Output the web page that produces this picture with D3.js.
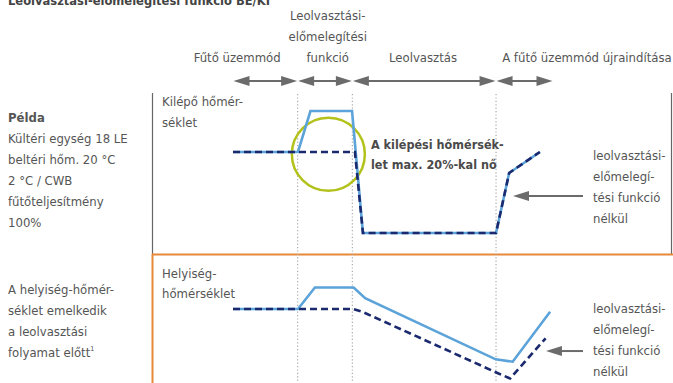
<!DOCTYPE html>
<html>
<head>
<meta charset="utf-8">
<script src="https://cdn.jsdelivr.net/npm/d3@7"></script>
<style>
  html, body { margin: 0; padding: 0; background: #fff; }
  svg { display: block; }
  text { font-family: "DejaVu Sans Condensed", "Liberation Sans Narrow", sans-serif; fill: #555; font-size: 13px; }
</style>
</head>
<body>
<svg id="chart" width="673" height="383"></svg>
<script>
// Operating phases along the time axis (arbitrary time units 0–100)
const phaseLabels = [["Fűtő üzemmód"], ["Leolvasztási-", "előmelegítési", "funkció"], ["Leolvasztás"], ["A fűtő üzemmód újraindítása"]];
const phaseBounds = [0, 20.2, 37.3, 82.2, 100];
const phaseLabelCenters = [1.3, 29.6, 59.4, 110.6];

// Outlet (leaving water) temperature, relative units
const outletWith    = [[0, 60.7], [20.3, 60.7], [24.2, 88], [37.2, 88], [40.6, 6.7], [82.2, 6.7], [86.3, 46.7], [95.9, 60.7]];
const outletWithout = [[0, 60.7], [38.1, 60.7], [40.6, 6.7], [82.2, 6.7], [86.3, 46.7], [95.9, 60.7]];

// Room temperature, relative units
const roomWith    = [[0, 63.3], [20.3, 63.3], [25.6, 81.2], [37.7, 81.2], [41.3, 72.3], [82.1, 21.4], [87.4, 19.4], [99.1, 61.1]];
const roomWithout = [[0, 63.3], [37.5, 63.3], [40.6, 60.8], [82.8, 9.8], [86.6, 5.4], [97.7, 38.9]];

const titleText = "Leolvasztási-előmelegítési funkció BE/KI";
const exampleLines = ["Kültéri egység 18 LE", "beltéri hőm. 20 °C", "2 °C / CWB", "fűtőteljesítmény", "100%"];
const roomNoteLines = ["A helyiség-hőmér-", "séklet emelkedik", "a leolvasztási", "folyamat előtt"];
const noFunctionLines = ["leolvasztási-", "előmelegí-", "tési funkció", "nélkül"];
const peakNoteLines = ["A kilépési hőmérsék-", "let max. 20%-kal nő"];

const svg = d3.select("#chart");

const x = d3.scaleLinear().domain([0, 100]).range([233, 553]);
const yTop = d3.scaleLinear().domain([0, 100]).range([243, 93]);
const yBot = d3.scaleLinear().domain([0, 100]).range([385, 265]);

const grayArrow = "#6b6b6b";
const lightBlue = "#5ba3d8";
const navy = "#1b2a6e";

// Title (sits at the very top edge)
svg.append("text").attr("x", 8).attr("y", 5)
  .style("font-weight", "bold").style("fill", "#444").style("font-size", "12.8px")
  .text(titleText);

// Phase labels
phaseLabels.forEach((lines, i) => {
  const n = lines.length;
  lines.forEach((ln, j) => {
    svg.append("text")
      .attr("x", x(phaseLabelCenters[i]))
      .attr("y", 62 - (n - 1 - j) * 21)
      .attr("text-anchor", "middle")
      .text(ln);
  });
});

// Phase arrows (double-headed)
const arrowY = 81;
function head(tipX, tipY, dir) {
  const L = 16, H = 5;
  return `M${tipX},${tipY} L${tipX - dir * L},${tipY - H} L${tipX - dir * L},${tipY + H} Z`;
}
for (let i = 0; i < phaseBounds.length - 1; i++) {
  const a = x(phaseBounds[i]) + 0.5, b = x(phaseBounds[i + 1]) - 0.5;
  svg.append("line").attr("x1", a + 8).attr("x2", b - 8).attr("y1", arrowY).attr("y2", arrowY)
    .attr("stroke", grayArrow).attr("stroke-width", 2);
  svg.append("path").attr("d", head(a, arrowY, -1)).attr("fill", grayArrow);
  svg.append("path").attr("d", head(b, arrowY, 1)).attr("fill", grayArrow);
}

// Panel frames
svg.append("line").attr("x1", 152.5).attr("x2", 152.5).attr("y1", 93).attr("y2", 254)
  .attr("stroke", "#666").attr("stroke-width", 1.2);
svg.append("line").attr("x1", 671.5).attr("x2", 671.5).attr("y1", 93).attr("y2", 254)
  .attr("stroke", "#666").attr("stroke-width", 1.2);
svg.append("line").attr("x1", 152).attr("x2", 673).attr("y1", 254.5).attr("y2", 254.5)
  .attr("stroke", "#e8893a").attr("stroke-width", 2);
svg.append("line").attr("x1", 152.5).attr("x2", 152.5).attr("y1", 254).attr("y2", 383)
  .attr("stroke", "#e8893a").attr("stroke-width", 2);

// Dotted phase boundaries
[phaseBounds[1], phaseBounds[2], phaseBounds[3]].forEach(t => {
  svg.append("line").attr("x1", x(t)).attr("x2", x(t)).attr("y1", 94).attr("y2", 383)
    .attr("stroke", "#aaa").attr("stroke-width", 1.2).attr("stroke-dasharray", "1.2,2.2");
});

// Left-hand notes
svg.append("text").attr("x", 8).attr("y", 122).style("font-weight", "bold").style("fill", "#555").text("Példa");
exampleLines.forEach((t, i) => svg.append("text").attr("x", 8).attr("y", 143 + i * 21).text(t));
roomNoteLines.forEach((t, i) => {
  const tx = svg.append("text").attr("x", 8).attr("y", 294 + i * 21).text(t);
  if (i === roomNoteLines.length - 1) {
    tx.append("tspan").attr("dy", -6).style("font-size", "7px").text("1");
  }
});

// Panel titles
["Kilépő hőmér-", "séklet"].forEach((t, i) => svg.append("text").attr("x", 162).attr("y", 106 + i * 21).text(t));
["Helyiség-", "hőmérséklet"].forEach((t, i) => svg.append("text").attr("x", 162).attr("y", 278 + i * 20).text(t));

// Highlight circle around the pre-heating peak
svg.append("circle").attr("cx", x(29.8)).attr("cy", yTop(59.2)).attr("r", 36.5)
  .attr("fill", "none").attr("stroke", "#b2c21a").attr("stroke-width", 2.5);

// Temperature curves
const lineTop = d3.line().x(d => x(d[0])).y(d => yTop(d[1]));
const lineBot = d3.line().x(d => x(d[0])).y(d => yBot(d[1]));

svg.append("path").attr("d", lineTop(outletWith)).attr("fill", "none")
  .attr("stroke", lightBlue).attr("stroke-width", 2.6).attr("stroke-linejoin", "miter");
svg.append("path").attr("d", lineTop(outletWithout)).attr("fill", "none")
  .attr("stroke", navy).attr("stroke-width", 2.6).attr("stroke-dasharray", "7,4");

svg.append("path").attr("d", lineBot(roomWith)).attr("fill", "none")
  .attr("stroke", lightBlue).attr("stroke-width", 2.6);
svg.append("path").attr("d", lineBot(roomWithout)).attr("fill", "none")
  .attr("stroke", navy).attr("stroke-width", 2.6).attr("stroke-dasharray", "7,4");

// Peak annotation
peakNoteLines.forEach((t, i) => svg.append("text").attr("x", 371).attr("y", 149 + i * 20)
  .style("font-weight", "bold").style("fill", "#4a4a4a").style("font-size", "12.5px").text(t));

// "Without function" callouts with pointer arrows
function callout(lines, baseY, tipX, tipY) {
  lines.forEach((t, i) => svg.append("text").attr("x", 593).attr("y", baseY + i * 21).text(t));
  svg.append("line").attr("x1", tipX + 10).attr("x2", 583).attr("y1", tipY).attr("y2", tipY)
    .attr("stroke", grayArrow).attr("stroke-width", 2);
  svg.append("path").attr("d", head(tipX, tipY, -1)).attr("fill", grayArrow);
}
callout(noFunctionLines, 160, x(87.5), yTop(31.3));
callout(noFunctionLines, 313, x(97.8), yBot(28.3));
</script>
</body>
</html>
